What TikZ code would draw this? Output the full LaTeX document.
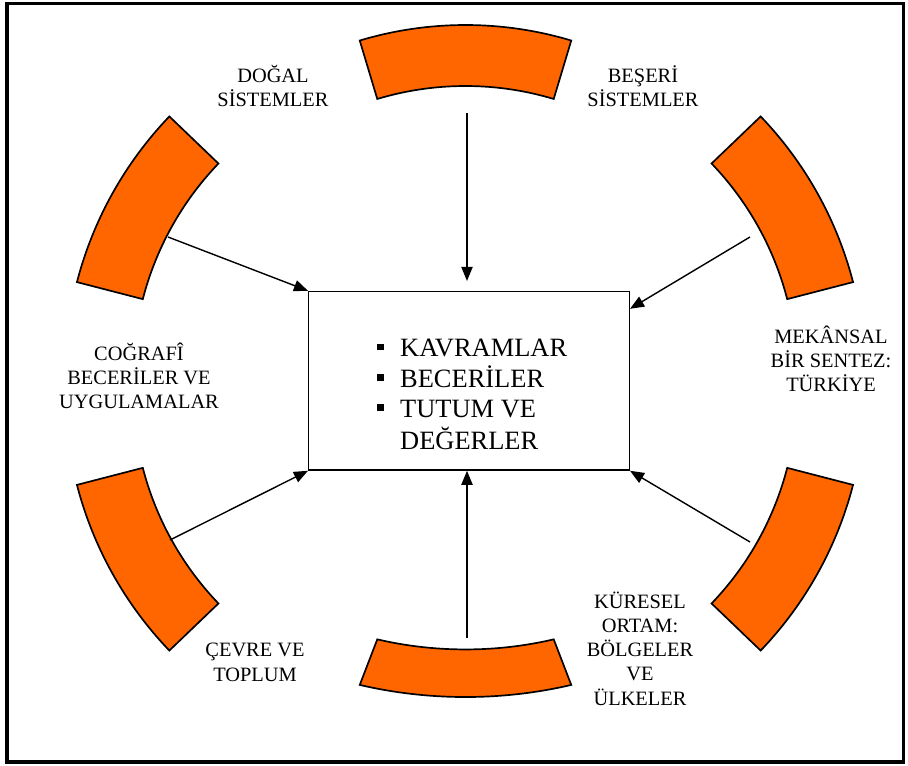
\documentclass[tikz,border=0pt]{standalone}
\usepackage{fontspec}
\setmainfont{Liberation Serif}
\usetikzlibrary{arrows.meta,calc}
\definecolor{arcorange}{RGB}{255,102,0}
\newcommand{\sqbullet}{\rule[0.25em]{0.26em}{0.26em}}
\begin{document}
\begin{tikzpicture}[x=0.025cm,y=-0.025cm,
  blockarc/.style={fill=arcorange, draw=black, line width=1.2pt, line join=miter},
  conn/.style={draw=black, line width=1pt, -{Triangle[length=10pt,width=8pt]}},
  lbl/.style={font=\fontsize{14.5}{17.1}\selectfont, align=center, inner sep=0pt},
  centerbox/.style={draw=black, line width=1pt, minimum width=228pt, minimum height=127pt, inner sep=0pt}
]
\useasboundingbox (0,0) rectangle (908,766);
\draw[line width=2.2pt] (7,3.5) rectangle (903.5,762);

% top arc
\begin{scope}[shift={(465.5,393)}]
\draw[blockarc] (-106.7:368) arc[start angle=-106.7, end angle=-73.3, radius=368]
  -- (-73.3:307) arc[start angle=-73.3, end angle=-106.7, radius=307] -- cycle;
\end{scope}
% bottom arc
\begin{scope}[shift={(465.5,410)}, yscale=0.78]
\draw[blockarc] (73.3:368) arc[start angle=73.3, end angle=106.7, radius=368]
  -- (106.7:307) arc[start angle=106.7, end angle=73.3, radius=307] -- cycle;
\end{scope}
% top-left arc
\begin{scope}[shift={(440,376)}]
\draw[blockarc] (-136.2:375) arc[start angle=-136.2, end angle=-165.5, radius=375]
  -- (-165.5:307) arc[start angle=-165.5, end angle=-136.2, radius=307] -- cycle;
\end{scope}
% top-right arc
\begin{scope}[shift={(490,376)}]
\draw[blockarc] (-43.8:375) arc[start angle=-43.8, end angle=-14.5, radius=375]
  -- (-14.5:307) arc[start angle=-14.5, end angle=-43.8, radius=307] -- cycle;
\end{scope}
% bottom-left arc
\begin{scope}[shift={(440,391)}]
\draw[blockarc] (165.5:375) arc[start angle=165.5, end angle=136.2, radius=375]
  -- (136.2:307) arc[start angle=136.2, end angle=165.5, radius=307] -- cycle;
\end{scope}
% bottom-right arc
\begin{scope}[shift={(490,391)}]
\draw[blockarc] (14.5:375) arc[start angle=14.5, end angle=43.8, radius=375]
  -- (43.8:307) arc[start angle=43.8, end angle=14.5, radius=307] -- cycle;
\end{scope}

% center box
\node[centerbox] (box) at (469,380.8) {};
\node[anchor=base west, inner sep=0pt, font=\fontsize{18.8}{21.3}\selectfont] (list) at (377,357)
  {\begin{tabular}[t]{@{}l@{\hspace{11.4pt}}l@{}}
   \sqbullet & KAVRAMLAR\\
   \sqbullet & BECERİLER\\
   \sqbullet & TUTUM VE\\
             & DEĞERLER
   \end{tabular}};

% arrow start points
\coordinate (sTL) at (168,237);
\coordinate (sT) at (467,113);
\coordinate (sTR) at (750,237);
\coordinate (sBL) at (170,540);
\coordinate (sB) at (467,638);
\coordinate (sBR) at (750,542);

\draw[conn] (sTL) -- (box.north west);
\draw[conn, shorten >=7pt] (sT) -- (sT |- box.north);
\draw[conn] (sTR) -- ($(box.north east)+(0,18)$);
\draw[conn] (sBL) -- (box.south west);
\draw[conn] (sB) -- (sB |- box.south);
\draw[conn] (sBR) -- (box.south east);

% labels (base anchor = baseline of last line)
\node[lbl, anchor=base] (dogal) at (273,107) {DOĞAL\\SİSTEMLER};
\node[lbl, anchor=base] (beseri) at (643,107) {BEŞERİ\\SİSTEMLER};
\node[lbl, anchor=base] (cografi) at (139,409) {COĞRAFÎ\\BECERİLER VE\\UYGULAMALAR};
\node[lbl, anchor=base] (mekansal) at (831,392) {MEKÂNSAL\\BİR SENTEZ:\\TÜRKİYE};
\node[lbl, anchor=base] (cevre) at (255,681) {ÇEVRE VE\\TOPLUM};
\node[lbl, anchor=base] (kuresel) at (640,705) {KÜRESEL\\ORTAM:\\BÖLGELER\\VE\\ÜLKELER};
\end{tikzpicture}
\end{document}
